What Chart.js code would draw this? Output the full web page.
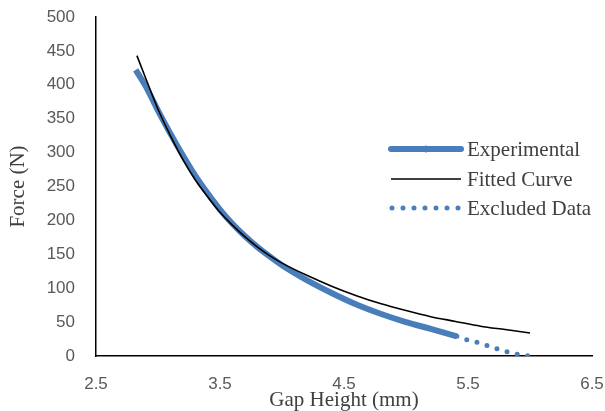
<!DOCTYPE html>
<html>
<head>
<meta charset="utf-8">
<script src="https://cdn.jsdelivr.net/npm/chart.js@4"></script>
<style>
  html, body { margin: 0; padding: 0; background: #fff; }
  #wrap { width: 605px; height: 411px; }
</style>
</head>
<body>
<div id="wrap"><canvas id="chart" width="605" height="411"></canvas></div>
<script>
// values
var expGap   = [2.82, 2.9, 3.0, 3.1, 3.2, 3.3, 3.4, 3.5, 3.6, 3.7, 3.8, 3.9, 4.0, 4.2, 4.4, 4.6, 4.8, 5.0, 5.2, 5.41];
var expForce = [422, 398, 362, 328, 296, 266, 240, 216, 195, 177, 161, 147, 134, 112, 93, 76, 62, 50, 40, 29];

var fitGap   = [2.83, 2.9, 3.0, 3.1, 3.2, 3.3, 3.4, 3.5, 3.6, 3.7, 3.8, 3.9, 4.0, 4.2, 4.4, 4.6, 4.8, 5.0, 5.2, 5.4, 5.6, 5.8, 6.0];
var fitForce = [443, 410, 364, 325, 290, 260, 235, 212, 193, 176, 161, 148, 137, 119, 103, 89, 77, 67, 58, 51, 44, 39, 34];

var exclGap   = [5.41, 5.5, 5.6, 5.7, 5.8, 5.9, 6.0];
var exclForce = [29, 23.3, 19, 12.6, 7.2, 2.5, 0];

var seriesNames = ["Experimental", "Fitted Curve", "Excluded Data"];
var xTicks = [2.5, 3.5, 4.5, 5.5, 6.5];

var blue = "#4a7ebb";

function pts(xs, ys) {
    var out = [];
    for (var i = 0; i < xs.length; i++) out.push({x: xs[i], y: ys[i]});
    return out;
}

// legend drawn by hand so the line styles look like the original
var sideLegend = {
    id: "sideLegend",
    afterDraw: function (chart) {
        var ctx = chart.ctx;
        var x0 = 391, x1 = 461, tx = 467;
        var rows = [149, 179, 208];
        ctx.save();
        // Experimental
        ctx.strokeStyle = blue;
        ctx.lineWidth = 6;
        ctx.lineCap = "round";
        ctx.beginPath(); ctx.moveTo(x0, rows[0]); ctx.lineTo(x1, rows[0]); ctx.stroke();
        ctx.fillStyle = blue;
        ctx.beginPath(); ctx.moveTo(426, rows[0] - 4); ctx.lineTo(429, rows[0]); ctx.lineTo(426, rows[0] + 4); ctx.lineTo(423, rows[0]); ctx.fill();
        // Fitted
        ctx.strokeStyle = "#000";
        ctx.lineWidth = 1.6;
        ctx.lineCap = "butt";
        ctx.beginPath(); ctx.moveTo(x0, rows[1]); ctx.lineTo(x1, rows[1]); ctx.stroke();
        // Excluded
        ctx.strokeStyle = blue;
        ctx.lineWidth = 5;
        ctx.lineCap = "round";
        ctx.setLineDash([0, 11]);
        ctx.beginPath(); ctx.moveTo(x0 + 1, rows[2]); ctx.lineTo(x1, rows[2]); ctx.stroke();
        ctx.setLineDash([]);
        // texts
        ctx.fillStyle = "#404040";
        ctx.font = "21px 'Liberation Serif'";
        ctx.textBaseline = "middle";
        ctx.textAlign = "left";
        for (var i = 0; i < 3; i++) ctx.fillText(seriesNames[i], tx, rows[i] + 1);
        ctx.restore();
    }
};

var ctx = document.getElementById("chart");
var chart = new Chart(ctx, {
    type: "scatter",
    data: {
        datasets: [
            {
                label: seriesNames[1],
                data: pts(fitGap, fitForce),
                showLine: true,
                borderColor: "#000",
                borderWidth: 1.6,
                pointRadius: 0,
                cubicInterpolationMode: "monotone",
                order: 0
            },
            {
                label: seriesNames[0],
                data: pts(expGap, expForce),
                showLine: true,
                borderColor: blue,
                borderWidth: 6,
                pointRadius: 0,
                cubicInterpolationMode: "monotone",
                order: 1
            },
            {
                label: seriesNames[2],
                data: pts(exclGap, exclForce),
                showLine: true,
                borderColor: blue,
                borderWidth: 5,
                borderDash: [0, 10.5],
                borderCapStyle: "round",
                pointRadius: 0,
                cubicInterpolationMode: "monotone",
                order: 2
            }
        ]
    },
    options: {
        responsive: false,
        animation: false,
        devicePixelRatio: 1,
        layout: { padding: { left: 0, top: 17, right: 13, bottom: 0 } },
        plugins: {
            legend: { display: false },
            tooltip: { enabled: false }
        },
        scales: {
            x: {
                type: "linear",
                min: 2.5,
                max: 6.5,
                afterBuildTicks: function (scale) {
                    scale.ticks = xTicks.map(function (v) { return {value: v}; });
                },
                // invisible tick marks give the label offset without padding the layout
                grid: { display: false, drawTicks: true, tickLength: 18 },
                border: { display: true, color: "#000", width: 1.5 },
                ticks: {
                    padding: 0,
                    color: "#595959",
                    font: { family: "'Liberation Sans'", size: 17 },
                    callback: function (v) { return v.toFixed(1); }
                },
                title: {
                    display: true,
                    text: "Gap Height (mm)",
                    color: "#404040",
                    font: { family: "'Liberation Serif'", size: 21, lineHeight: 1 },
                    padding: 0
                },
                afterFit: function (scale) { scale.height = 55; }
            },
            y: {
                min: 0,
                max: 500,
                grid: { display: false, drawTicks: true, tickLength: 21 },
                border: { display: true, color: "#000", width: 1.5 },
                ticks: {
                    stepSize: 50,
                    padding: 0,
                    color: "#595959",
                    font: { family: "'Liberation Sans'", size: 17 }
                },
                title: {
                    display: true,
                    text: "Force (N)",
                    color: "#404040",
                    font: { family: "'Liberation Serif'", size: 21, lineHeight: 1 },
                    padding: { top: 8, bottom: 0 }
                },
                afterFit: function (scale) { scale.width = 96; }
            }
        }
    },
    plugins: [sideLegend]
});
</script>
</body>
</html>
